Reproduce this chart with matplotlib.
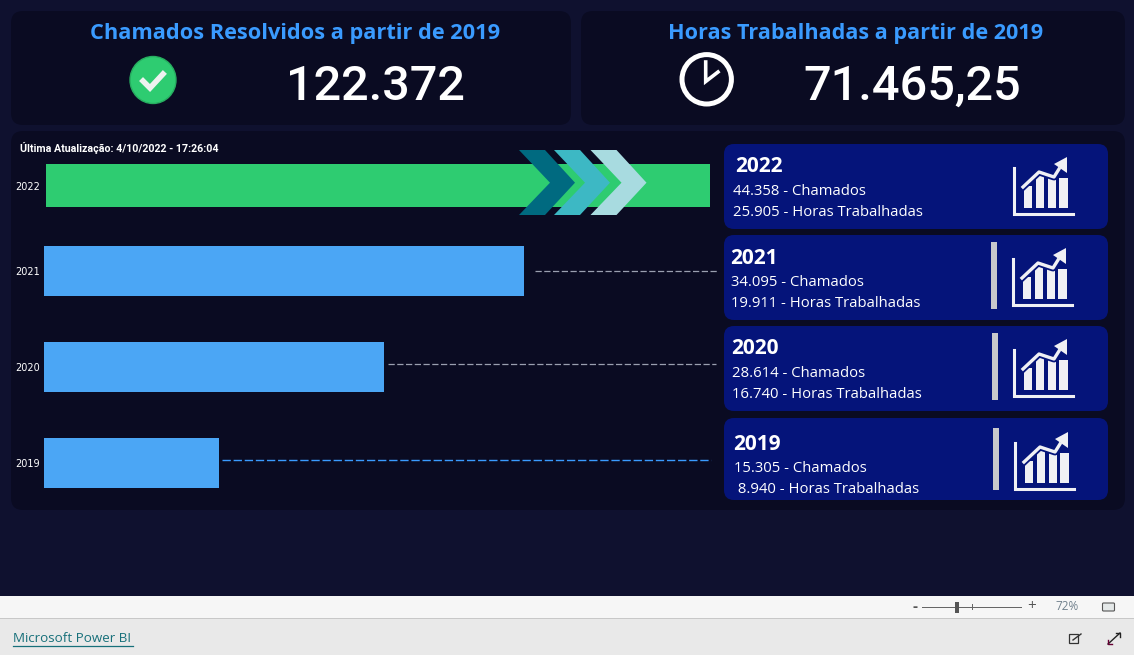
#!/usr/bin/env python3
import matplotlib
matplotlib.use('Agg')
import matplotlib.pyplot as plt
from matplotlib.patches import FancyBboxPatch, Polygon, Circle, Ellipse, Rectangle

W, H = 1134, 655

# dados
anos = ['2022', '2021', '2020', '2019']
chamados = ['44.358', '34.095', '28.614', '15.305']
horas = ['25.905', '19.911', '16.740', ' 8.940']
barras = [99.7, 72.1, 51.1, 26.3]  # comprimento relativo das barras
total_chamados = '122.372'
total_horas = '71.465,25'

BG = '#0f112f'
PANEL = '#0a0b22'
CARD = '#05147a'
BLUE = '#3a9bff'
NARROW = ['Roboto', 'DejaVu Sans']

fig = plt.figure(figsize=(W / 100, H / 100), dpi=100, facecolor=BG)
ax = fig.add_axes([0, 0, 1, 1])
ax.set_xlim(0, W)
ax.set_ylim(H, 0)
ax.axis('off')


def caixa(x0, y0, x1, y1, cor, r=12, z=1):
    ax.add_patch(FancyBboxPatch((x0 + r, y0 + r), x1 - x0 - 2 * r, y1 - y0 - 2 * r,
                                boxstyle=f'round,pad={r},rounding_size={r}',
                                fc=cor, ec='none', zorder=z))


def rect(x0, y0, x1, y1, cor, z=1):
    ax.add_patch(Rectangle((x0, y0), x1 - x0, y1 - y0, fc=cor, ec='none', zorder=z))


def icone_grafico(x, y):
    """Icone do grafico com seta, (x, y) e o canto inferior esquerdo"""
    cor = '#f0f0f4'
    ax.plot([x + 1, x + 1, x + 60], [y - 47, y - 1, y - 1], color=cor, lw=2.2, zorder=6,
            solid_joinstyle='miter')
    for dx0, dx1, topo in zip([11, 23, 35, 46], [19, 31, 43, 55], [29, 41, 39, 37]):
        rect(x + dx0, y - topo, x + dx1, y - 7, cor, z=6)
    linha_x = [x + 10, x + 26, x + 41, x + 46]
    linha_y = [y - 28, y - 43, y - 38, y - 46]
    ax.plot(linha_x, linha_y, color=CARD, lw=5, zorder=7)
    ax.plot(linha_x, linha_y, color=cor, lw=2.4, zorder=8)
    ax.add_patch(Polygon([(x + 41, y - 51), (x + 54, y - 58), (x + 54, y - 42)],
                         fc=cor, ec='none', zorder=8))


# fundo e paineis
caixa(11, 11, 571, 125, PANEL)
caixa(581, 11, 1125, 125, PANEL)
caixa(11, 131, 1125, 510, PANEL)

# cabecalhos
ax.text(295, 33, 'Chamados Resolvidos a partir de 2019', color=BLUE, fontsize=15.7,
        family='Open Sans', weight='bold', ha='center', va='center')
ax.text(856, 33, 'Horas Trabalhadas a partir de 2019', color=BLUE, fontsize=15.6,
        family='Open Sans', weight='bold', ha='center', va='center')
ax.text(375, 100, total_chamados, color='white', fontsize=35, family=NARROW, weight='medium',
        ha='center', va='baseline')
ax.text(912, 100, total_horas, color='white', fontsize=35, family=NARROW, weight='medium',
        ha='center', va='baseline')

# icone de check
ax.add_patch(Ellipse((153, 80), 46, 47, fc='#2ecc71', ec='#27ae60', lw=1, zorder=3))
ax.plot([143, 150, 163], [81, 88, 74], color='#eef2f0', lw=4, zorder=4,
        solid_joinstyle='miter')

# icone do relogio
ax.add_patch(Circle((706.7, 79.3), 24.7, fc='none', ec='white', lw=3.6, zorder=3))
ax.plot([705.7, 705.7, 718], [62, 81.5, 72], color='white', lw=2.6, zorder=3,
        solid_joinstyle='miter')

ax.text(20, 148, 'Última Atualização: 4/10/2022 - 17:26:04', color='white', fontsize=7.7,
        family=NARROW, weight='bold', ha='left', va='center')

# barras por ano
ax_b = fig.add_axes([44 / W, 0, (710 - 44) / W, 1])
ax_b.set_xlim(0, 100)
ax_b.set_ylim(H, 0)
ax_b.patch.set_alpha(0)
for s in ax_b.spines.values():
    s.set_visible(False)
ax_b.xaxis.set_visible(False)
centros = [185.5, 271, 367, 463]
alturas = [43, 50, 50, 50]
inicio = [0.3, 0, 0, 0]
cores = ['#2ecc71', '#4ba6f5', '#4ba6f5', '#4ba6f5']
ax_b.barh(centros, barras, height=alturas, left=inicio, color=cores, zorder=2)
ax_b.set_yticks(centros, anos)
ax_b.tick_params(axis='y', length=0, pad=3, labelsize=7, labelcolor='white')

# linhas tracejadas
ax.plot([535, 717], [271, 271], color='#9a9fb0', lw=0.9, ls=(0, (5, 2)), zorder=3)
ax.plot([388, 716], [364, 364], color='#9a9fb0', lw=0.9, ls=(0, (5, 2)), zorder=3)
ax.plot([222, 711], [460, 460], color='#3a9bff', lw=1.0, ls=(0, (6, 2)), zorder=3)

# setas sobre a barra verde
ax_s = fig.add_axes([0, 0, 1, 1])
ax_s.set_xlim(0, W)
ax_s.set_ylim(H, 0)
ax_s.axis('off')
for dx, cor in zip([0, 35, 71.5], ['#006a80', '#3db8c4', '#a8dbe0']):
    ax_s.add_patch(Polygon([(519 + dx, 150), (545 + dx, 150), (575 + dx, 182.7),
                            (545 + dx, 215), (519 + dx, 215), (550 + dx, 182.7)],
                           fc=cor, ec='none'))

# cartoes da direita
topos = [(144, 229), (235, 320), (326, 411), (418, 500)]
x_ano = [735, 730, 731, 733]
y_ano = [167, 258, 349, 444]
x_txt = [733, 731, 732, 734]
y_l1 = [191.5, 282.5, 373.5, 468.5]
y_l2 = [213, 303.5, 394.5, 489.5]
x_icone = [1013, 1012, 1013, 1014]
y_icone = [215, 306, 397, 490]
sep = [None, (991, 997, 242, 309), (992, 998, 333, 400), (993, 999, 428, 490)]
for i, (y0, y1) in enumerate(topos):
    caixa(724, y0, 1108, y1, CARD, r=10, z=4)
    ax.text(x_ano[i], y_ano[i], anos[i], color='white', fontsize=15, family='Open Sans',
            weight='bold', ha='left', va='center', zorder=6)
    ax.text(x_txt[i], y_l1[i], f'{chamados[i]} - Chamados', color='white', fontsize=10.7,
            family='Open Sans', ha='left', va='center', zorder=6)
    ax.text(x_txt[i], y_l2[i], f'{horas[i]} - Horas Trabalhadas', color='white', fontsize=10.7,
            family='Open Sans', ha='left', va='center', zorder=6)
    icone_grafico(x_icone[i], y_icone[i])
    if sep[i]:
        rect(sep[i][0], sep[i][2], sep[i][1], sep[i][3], '#c8c8cc', z=6)

# rodape do Power BI
rect(0, 595.5, W, 618, '#f6f6f6', z=1)
rect(0, 618, W, H, '#e9e9e9', z=1)
rect(0, 617.5, W, 619, '#c8c8c8', z=2)
ax.text(915, 606.5, '-', color='#555555', fontsize=11, weight='bold', ha='center', va='center',
        family='Open Sans')
rect(922, 606.5, 1022, 607.5, '#666666', z=3)
rect(955, 602, 959, 613, '#555555', z=4)
rect(972, 604, 972.8, 610, '#666666', z=3)
ax.text(1032, 606, '+', color='#555555', fontsize=11, ha='center', va='center', family='Open Sans')
ax.text(1067, 606.5, '72%', color='#70808c', fontsize=8.5, ha='center', va='center', family='Open Sans')
ax.add_patch(FancyBboxPatch((1102.5, 603), 12, 8, boxstyle='round,pad=0,rounding_size=1',
                            fc='#e4e8e8', ec='#555555', lw=0.8, zorder=3))
ax.text(13, 639, 'Microsoft Power BI', color='#17707a', fontsize=9.6, ha='left', va='center',
        family='Open Sans')
ax.plot([13, 133], [645.5, 645.5], color='#17707a', lw=0.9, zorder=3)
ax.add_patch(Rectangle((1069, 634), 9, 9, fc='none', ec='#333333', lw=0.9, zorder=3))
ax.plot([1073, 1081], [640, 634], color='#333333', lw=1, zorder=4)
ax.plot([1108, 1120], [644, 633], color='#222222', lw=1, zorder=3)
ax.plot([1108, 1108, 1112], [640, 644, 644], color='#660033', lw=1, zorder=3)
ax.plot([1116, 1120, 1120], [633, 633, 637], color='#222222', lw=1, zorder=3)

fig.savefig('out.png', dpi=100, facecolor=BG)
plt.close(fig)
